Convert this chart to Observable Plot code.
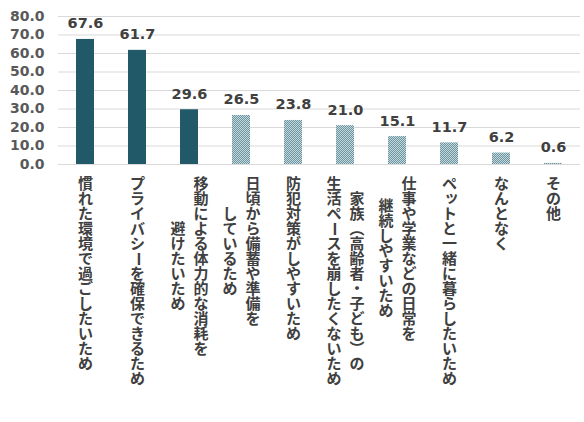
<!DOCTYPE html>
<html><head><meta charset="utf-8">
<script src="https://cdn.jsdelivr.net/npm/d3@7"></script>
<script src="https://cdn.jsdelivr.net/npm/@observablehq/plot@0.6"></script>
<style>body{margin:0;background:#fff}</style>
</head><body><div id="chart"></div>
<script>
const categories = [
  "慣れた環境で過ごしたいため",
  "プライバシーを確保できるため",
  "移動による体力的な消耗を\n避けたいため",
  "日頃から備蓄や準備を\nしているため",
  "防犯対策がしやすいため",
  "家族（高齢者・子ども）の\n生活ペースを崩したくないため",
  "仕事や学業などの日常を\n継続しやすいため",
  "ペットと一緒に暮らしたいため",
  "なんとなく",
  "その他"
];
const values = [67.6, 61.7, 29.6, 26.5, 23.8, 21.0, 15.1, 11.7, 6.2, 0.6];
const highlighted = [true, true, true, false, false, false, false, false, false, false];
const yTicks = [0, 10, 20, 30, 40, 50, 60, 70, 80];

const data = categories.map((c, i) => ({cat: c, value: values[i], solid: highlighted[i]}));

// vertical (tategaki) labels: each column is a stack of one-glyph lines
const verticalForms = {"（": "︵", "）": "︶"};
const rotatedChars = new Set(["ー"]);
const smallKana = new Set([..."ッャュョァィゥェォっゃゅょぁぃぅぇぉ"]);
const charPitch = 15, colGap = 23, labelTop = 12;
const labelStyle = {fontSize: 15, fontWeight: "bold", fontFamily: "Noto Sans CJK JP", fill: "#404040", frameAnchor: "bottom", textAnchor: "middle"};
const labelMarks = [];
categories.forEach(c => {
  const lines = c.split("\n");
  const maxLen = d3.max(lines, l => [...l].length);
  lines.forEach((l, j) => {
    const chars = [...l];
    const off = (maxLen - chars.length) / 2;
    const colDx = ((lines.length - 1) / 2 - j) * colGap;
    let run = [], runStart = 0;
    const flush = () => {
      if (!run.length) return;
      const txt = run.join("\n");
      labelMarks.push(Plot.text([c], {
        ...labelStyle, x: d => d, text: () => txt, lineAnchor: "top", lineHeight: 1,
        dx: colDx, dy: labelTop + (off + runStart) * charPitch + 1.65
      }));
      run = [];
    };
    chars.forEach((ch, k) => {
      const special = rotatedChars.has(ch) || smallKana.has(ch);
      if (!special) {
        if (!run.length) runStart = k;
        run.push(verticalForms[ch] || ch);
        return;
      }
      flush();
      const small = smallKana.has(ch);
      labelMarks.push(Plot.text([c], {
        ...labelStyle, x: d => d, text: () => ch, lineAnchor: "middle",
        rotate: rotatedChars.has(ch) ? 90 : 0,
        dx: colDx + (small ? 2 : 0),
        dy: labelTop + (off + k + 0.5) * charPitch + (small ? -2 : 0)
      }));
    });
    flush();
  });
});

const svg = Plot.plot({
  width: 584,
  height: 422,
  marginLeft: 58,
  marginRight: 4,
  marginTop: 16,
  marginBottom: 258,
  style: "font-family: 'DejaVu Sans'; font-size: 14px; font-weight: bold; color: #595959; background: white; overflow: visible;",
  x: {domain: categories, paddingInner: 0.655, paddingOuter: 0.34, axis: null},
  y: {domain: [0, 80], ticks: yTicks, tickFormat: d => d.toFixed(1), tickSize: 0, tickPadding: 14, label: null},
  marks: [
    Plot.ruleY(yTicks, {stroke: "#d9d9d9", strokeWidth: 1}),
    Plot.barY(data.filter(d => d.solid), {x: "cat", y: "value", fill: "#215968"}),
    Plot.barY(data.filter(d => !d.solid), {x: "cat", y: "value", fill: "url(#dots)"}),
    Plot.text(data, {x: "cat", y: "value", text: d => d.value.toFixed(1), dy: -11, lineAnchor: "bottom",
      fontSize: 14.5, fontWeight: "bold", fontFamily: "DejaVu Sans", fill: "#404040"}),
    ...labelMarks
  ]
});

const defs = document.createElementNS("http://www.w3.org/2000/svg", "defs");
defs.innerHTML = `<pattern id="dots" width="2" height="2" patternUnits="userSpaceOnUse">
  <rect width="2" height="2" fill="#6a949f"/>
  <rect width="1" height="1" fill="#c8d9dd"/>
  <rect x="1" y="1" width="1" height="1" fill="#c8d9dd"/>
</pattern>`;
svg.insertBefore(defs, svg.firstChild);
document.getElementById("chart").appendChild(svg);
</script>
</body></html>
